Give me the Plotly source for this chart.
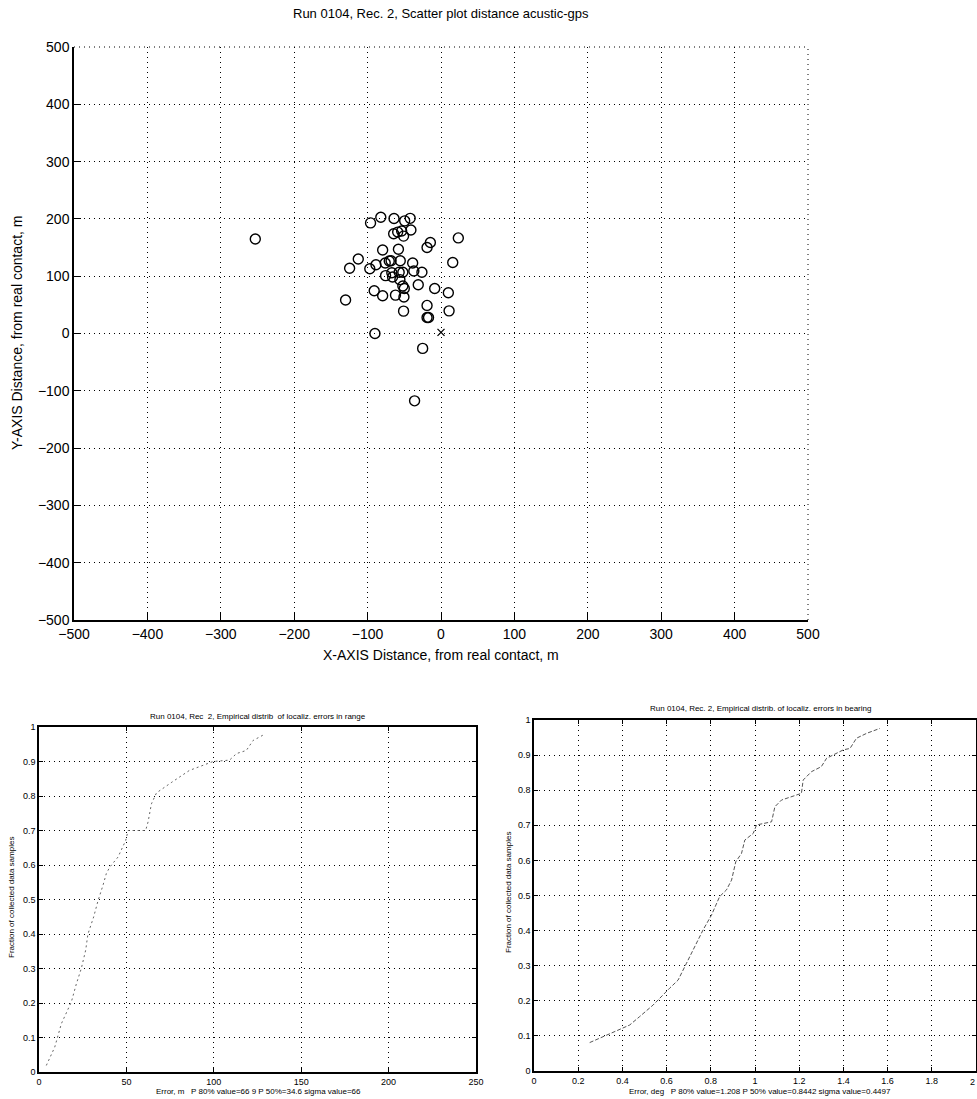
import plotly.graph_objects as go

# ---- data: scatter of localization offsets (m) ----
scatter_x = [-253, -96, -82, -64, -49.5, -42, -41, -64.5, -59, -53.6, -51, -14.5, -19, 23.6,
             -79.5, -58, -112.7, -124.5, -97, -88.6, -76, -70.5, -68, -55.5, -38.6, -37, -26, 16,
             -75.5, -66, -67, -57, -52, -56, -52, -50, -31, -8.6, 10, -91, -79.5, -62, -50.5,
             -130, -19, 11, -51, -19, -17, -90, -25, -36]
scatter_y = [165, 193, 203, 200.6, 196.6, 201, 180.5, 174, 177, 179, 170, 158.7, 150, 166.8,
             145.6, 147, 130, 114, 113, 120, 123, 126.6, 127, 127, 123, 109, 107, 124,
             101, 98.6, 106, 107, 107, 94, 83, 78.5, 85, 78.5, 71, 74.5, 66, 67, 63.6,
             58.5, 49, 39.5, 39, 28, 28, 0, -26, -117.5]
contact_x = [0]
contact_y = [2]

# ---- data: empirical distribution of range errors ----
range_err = [4.2, 9, 12.8, 18.5, 21.4, 24.2, 26.7, 28, 31.3, 33.8, 36.6, 38.5, 40.5, 45.2,
             49.6, 51, 61, 62.4, 64.3, 67.2, 76, 86, 99.6, 109, 113, 118.6, 122.5, 128]
range_frac = [0.019, 0.072, 0.14, 0.203, 0.256, 0.30, 0.353, 0.40, 0.45, 0.497, 0.541, 0.575,
              0.594, 0.623, 0.671, 0.70, 0.70, 0.725, 0.777, 0.809, 0.84, 0.874, 0.90, 0.904,
              0.923, 0.932, 0.961, 0.976]

# ---- data: empirical distribution of bearing errors ----
bear_err = [0.252, 0.433, 0.478, 0.539, 0.614, 0.652, 0.69, 0.728, 0.765, 0.803, 0.84, 0.871,
            0.894, 0.913, 0.939, 0.954, 0.992, 1.007, 1.075, 1.09, 1.12, 1.21, 1.218, 1.256,
            1.30, 1.324, 1.40, 1.43, 1.459, 1.505, 1.565]
bear_frac = [0.081, 0.131, 0.155, 0.188, 0.236, 0.259, 0.307, 0.354, 0.402, 0.444, 0.497,
             0.516, 0.544, 0.596, 0.62, 0.658, 0.677, 0.701, 0.71, 0.753, 0.772, 0.791, 0.829,
             0.853, 0.867, 0.891, 0.915, 0.919, 0.948, 0.962, 0.976]

W, H = 977, 1099
FONT = "Liberation Sans"

def px(x):
    return x / W

def py(y):
    return 1 - y / H

fig = go.Figure()

fig.add_trace(go.Scatter(x=scatter_x, y=scatter_y, mode="markers",
                         marker=dict(symbol="circle-open", size=10, color="black",
                                     line=dict(width=1.4, color="black")),
                         xaxis="x", yaxis="y", showlegend=False))
fig.add_trace(go.Scatter(x=contact_x, y=contact_y, mode="markers",
                         marker=dict(symbol="x-thin-open", size=7, color="black",
                                     line=dict(width=1.3, color="black")),
                         xaxis="x", yaxis="y", showlegend=False))
fig.add_trace(go.Scatter(x=range_err, y=range_frac, mode="lines",
                         line=dict(color="#666666", width=1, dash="2px,3px"),
                         xaxis="x2", yaxis="y2", showlegend=False))
fig.add_trace(go.Scatter(x=bear_err, y=bear_frac, mode="lines",
                         line=dict(color="#555555", width=1, dash="4px,2px"),
                         xaxis="x3", yaxis="y3", showlegend=False))

grid = dict(showgrid=True, gridcolor="black", griddash="1px,4px", gridwidth=1,
            zeroline=False, showline=True, linecolor="black", linewidth=1.5,
            ticks="inside", tickcolor="black", fixedrange=True, automargin=False)

fracs = [0, 0.1, 0.2, 0.3, 0.4, 0.5, 0.6, 0.7, 0.8, 0.9, 1]
frac_txt = ["0", "0.1", "0.2", "0.3", "0.4", "0.5", "0.6", "0.7", "0.8", "0.9", "1"]
deg_vals = [0, 0.2, 0.4, 0.6, 0.8, 1, 1.2, 1.4, 1.6, 1.8, 2]
deg_txt = ["0", "0.2", "0.4", "0.6", "0.8", "1", "1.2", "1.4", "1.6", "1.8", "2"]

fig.update_layout(
    width=W, height=H,
    margin=dict(l=0, r=0, t=0, b=0, autoexpand=False),
    paper_bgcolor="white", plot_bgcolor="white",
    font=dict(family=FONT, color="black"),
    xaxis=dict(domain=[px(74), px(808)], range=[-500, 500], tickvals=list(range(-500, 501, 100)),
               anchor="y", ticklen=7, tickfont=dict(size=14), **grid),
    yaxis=dict(domain=[py(620), py(47)], range=[-500, 500], tickvals=list(range(-500, 501, 100)),
               anchor="x", ticklen=7, tickfont=dict(size=14), **grid),
    xaxis2=dict(domain=[px(39), px(476)], range=[0, 250], tickvals=[0, 50, 100, 150, 200, 250],
                anchor="y2", ticklen=4, tickfont=dict(size=9), mirror="ticks", **grid),
    yaxis2=dict(domain=[py(1072), py(727)], range=[0, 1], tickvals=fracs, ticktext=frac_txt,
                anchor="x2", ticklen=4, tickfont=dict(size=9), mirror="ticks", **grid),
    xaxis3=dict(domain=[px(534), px(976)], range=[0, 2], tickvals=deg_vals, ticktext=deg_txt,
                anchor="y3", ticklen=4, tickfont=dict(size=9), mirror="ticks", **grid),
    yaxis3=dict(domain=[py(1071), py(720)], range=[0, 1], tickvals=fracs, ticktext=frac_txt,
                anchor="x3", ticklen=4, tickfont=dict(size=9), mirror="ticks", **grid),
)

# dotted grid lines along the open top and right edges of the scatter plot
edge = dict(color="black", width=1, dash="1px,4px")
fig.add_shape(type="line", xref="x domain", yref="y domain", x0=0, x1=1, y0=1, y1=1, line=edge)
fig.add_shape(type="line", xref="x domain", yref="y domain", x0=1, x1=1, y0=0, y1=1, line=edge)

def label(text, x, y, size, angle=0, xanchor="center"):
    fig.add_annotation(text=text, x=px(x), y=py(y), xref="paper", yref="paper",
                       showarrow=False, textangle=angle, font=dict(size=size, family=FONT),
                       xanchor=xanchor, yanchor="middle")

label("Run 0104, Rec. 2, Scatter plot distance acustic-gps", 441, 14, 13)
label("X-AXIS Distance, from real contact, m", 441, 655, 14)
label("Y-AXIS Distance, from real contact, m", 17, 333, 14, -90)

label("Run 0104, Rec  2, Empirical distrib  of localiz. errors in range", 258, 716, 8)
label("Error, m   P 80% value=66 9 P 50%=34.6 sigma value=66", 258, 1091, 8)
label("Fraction of collected data samples", 12, 898, 8, -90)

label("Run 0104, Rec. 2, Empirical distrib. of localiz. errors in bearing", 760, 708, 8)
label("Error, deg   P 80% value=1.208 P 50% value=0.8442 sigma value=0.4497", 760, 1091, 8)
label("Fraction of collected data samples", 508, 893, 8, -90)
label("2", 977, 1082, 9, xanchor="right")

fig.write_html("out.html")
